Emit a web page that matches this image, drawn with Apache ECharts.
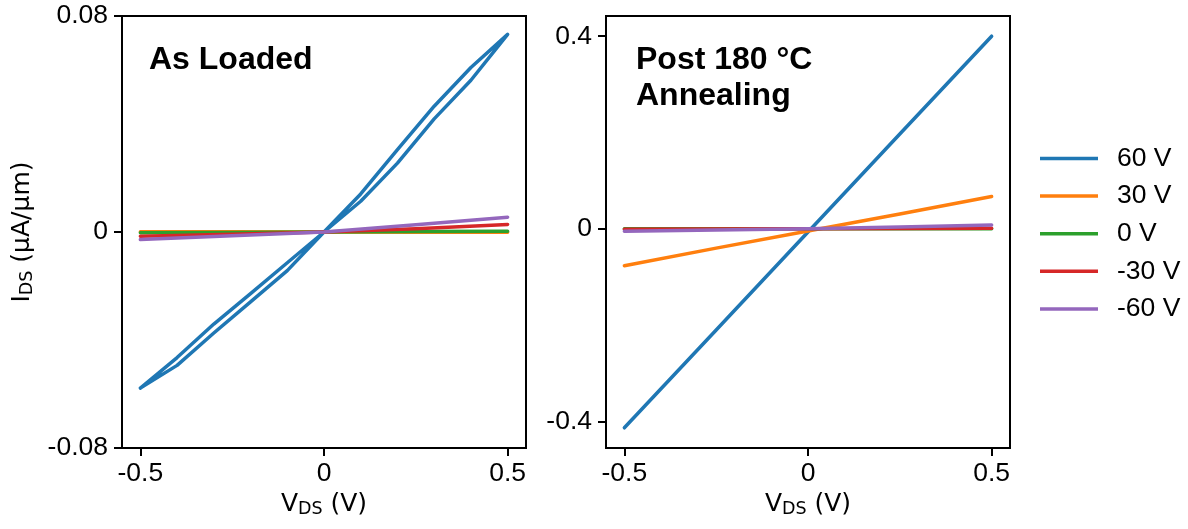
<!DOCTYPE html>
<html>
<head>
<meta charset="utf-8">
<script src="https://cdn.jsdelivr.net/npm/echarts@6/dist/echarts.min.js"></script>
<style>
html,body{margin:0;padding:0;background:#fff;}
#chart{width:1188px;height:529px;}
</style>
</head>
<body>
<div id="chart"></div>
<script>
// ---- data ----
const seriesNames = ['60 V', '30 V', '0 V', '-30 V', '-60 V'];
const colors = ['#1f77b4', '#ff7f0e', '#2ca02c', '#d62728', '#9467bd'];

// Left panel (As Loaded): 60 V hysteresis loop
const loadedLoopVds = [-0.5,-0.4,-0.3,-0.2,-0.1,0,0.1,0.2,0.3,0.4,0.5,0.4,0.3,0.2,0.1,0,-0.1,-0.2,-0.3,-0.4,-0.5];
const loaded60 = [-0.0578,-0.0494,-0.0374,-0.0259,-0.0143,0,0.0114,0.0255,0.0419,0.0562,0.0732,0.0609,0.0466,0.0305,0.0141,0,-0.0114,-0.0228,-0.0341,-0.0465,-0.0578];
// other gate voltages
const sweepVds = [-0.5,-0.25,0,0.25,0.5];
const loaded30 = [0.0001,0.00005,0,-0.00005,-0.0001];
const loaded0 = [-0.0003,-0.00015,0,0.00015,0.0003];
const loadedM30 = [-0.0016,-0.0008,0,0.0012,0.0028];
const loadedM60 = [-0.0028,-0.0014,0,0.0027,0.0055];

// Right panel (Post 180 °C Annealing)
const annealed60 = [-0.413,-0.210,-0.0065,0.197,0.400];
const annealed30 = [-0.0765,-0.040,-0.0046,0.031,0.0673];
const annealed0 = [0,0,0,0,0];
const annealedM30 = [-0.0006,-0.0003,0,0.0007,0.0015];
const annealedM60 = [-0.005,-0.0025,0,0.004,0.008];

// ticks
const xTicks = [-0.5, 0, 0.5];
const xTickLabels = ['-0.5', '0', '0.5'];
const leftYTicks = [-0.08, 0, 0.08];
const leftYTickLabels = ['-0.08', '0', '0.08'];
const rightYTicks = [-0.4, 0, 0.4];
const rightYTickLabels = ['-0.4', '0', '0.4'];

// ---- chart ----
const tickFont = 'Liberation Sans, Arial, sans-serif';
const nameFont = 'DejaVu Sans, sans-serif';
const tickSize = 26.5;

function pair(xs, ys) { return xs.map((x, i) => [x, ys[i]]); }
function labelFrom(ticks, labels) {
  return v => { const i = ticks.findIndex(t => Math.abs(t - v) < 1e-9); return i >= 0 ? labels[i] : ''; };
}

const richName = {
  a: {fontFamily: nameFont, fontSize: 25, color: '#000', lineHeight: 28, verticalAlign: 'middle'},
  s: {fontFamily: nameFont, fontSize: 17.5, color: '#000', lineHeight: 16, verticalAlign: 'bottom'}
};

function xAxis(gridIndex) {
  return {
    type: 'value', gridIndex, min: -0.55, max: 0.55,
    name: '{a|V}{s|DS}{a| (V)}', nameLocation: 'middle', nameGap: 40,
    nameTextStyle: {rich: richName},
    axisLine: {show: true, onZero: false, lineStyle: {color: '#000', width: 2}},
    axisTick: {show: true, length: 8, lineStyle: {color: '#000', width: 2}, customValues: xTicks},
    axisLabel: {show: true, customValues: xTicks, formatter: labelFrom(xTicks, xTickLabels),
      fontFamily: tickFont, fontSize: tickSize, color: '#000', margin: 12},
    splitLine: {show: false}
  };
}
function yAxis(gridIndex, min, max, ticks, labels, withName) {
  const ax = {
    type: 'value', gridIndex, min, max,
    axisLine: {show: true, onZero: false, lineStyle: {color: '#000', width: 2}},
    axisTick: {show: true, length: 8, lineStyle: {color: '#000', width: 2}, customValues: ticks},
    axisLabel: {show: true, customValues: ticks, formatter: labelFrom(ticks, labels),
      fontFamily: tickFont, fontSize: tickSize, color: '#000', margin: 14},
    splitLine: {show: false}
  };
  if (withName) {
    ax.name = '{a|I}{s|DS}{a| (μA/μm)}';
    ax.nameLocation = 'middle';
    ax.nameGap = 86;
    ax.nameRotate = 90;
    ax.nameTextStyle = {rich: richName};
  }
  return ax;
}

function lineSeries(name, idx, data, gi) {
  return {
    name, type: 'line', xAxisIndex: gi, yAxisIndex: gi, data,
    symbol: 'none', showSymbol: false, smooth: false,
    lineStyle: {color: colors[idx], width: 3.5, cap: 'round', join: 'round'},
    itemStyle: {color: colors[idx]},
    emphasis: {disabled: true}, silent: true, z: 2 + idx
  };
}

const leftData = [pair(loadedLoopVds, loaded60), pair(sweepVds, loaded30), pair(sweepVds, loaded0), pair(sweepVds, loadedM30), pair(sweepVds, loadedM60)];
const rightData = [pair(sweepVds, annealed60), pair(sweepVds, annealed30), pair(sweepVds, annealed0), pair(sweepVds, annealedM30), pair(sweepVds, annealedM60)];

const series = [];
seriesNames.forEach((n, i) => series.push(lineSeries(n, i, leftData[i], 0)));
seriesNames.forEach((n, i) => series.push(lineSeries(n, i, rightData[i], 1)));

const titleStyle = {fontFamily: tickFont, fontWeight: 'bold', fontSize: 32, lineHeight: 36, color: '#000'};
const gridCommon = {show: true, borderColor: '#000', borderWidth: 2, backgroundColor: 'transparent',
  containLabel: false, outerBoundsMode: 'none'};

const option = {
  animation: false,
  backgroundColor: '#fff',
  title: [
    {text: 'As Loaded', left: 149, top: 42, padding: 0, textStyle: titleStyle},
    {text: 'Post 180 °C\nAnnealing', left: 636, top: 42, padding: 0, textStyle: titleStyle}
  ],
  grid: [
    Object.assign({left: 122, right: 662, top: 16, bottom: 81}, gridCommon),
    Object.assign({left: 606, right: 178, top: 16, bottom: 81}, gridCommon)
  ],
  xAxis: [xAxis(0), xAxis(1)],
  yAxis: [
    yAxis(0, -0.08, 0.08, leftYTicks, leftYTickLabels, true),
    yAxis(1, -0.455, 0.442, rightYTicks, rightYTickLabels, false)
  ],
  legend: {
    data: seriesNames, orient: 'vertical', left: 1040, top: 143.5, padding: 0,
    icon: 'rect', itemWidth: 58, itemHeight: 3.5, itemGap: 7.6,
    selectedMode: false,
    textStyle: {fontFamily: tickFont, fontSize: tickSize, color: '#000', lineHeight: 30, padding: [0, 0, 0, 14]}
  },
  series
};

const chart = echarts.init(document.getElementById('chart'), null, {renderer: 'canvas'});
chart.setOption(option);
</script>
</body>
</html>
